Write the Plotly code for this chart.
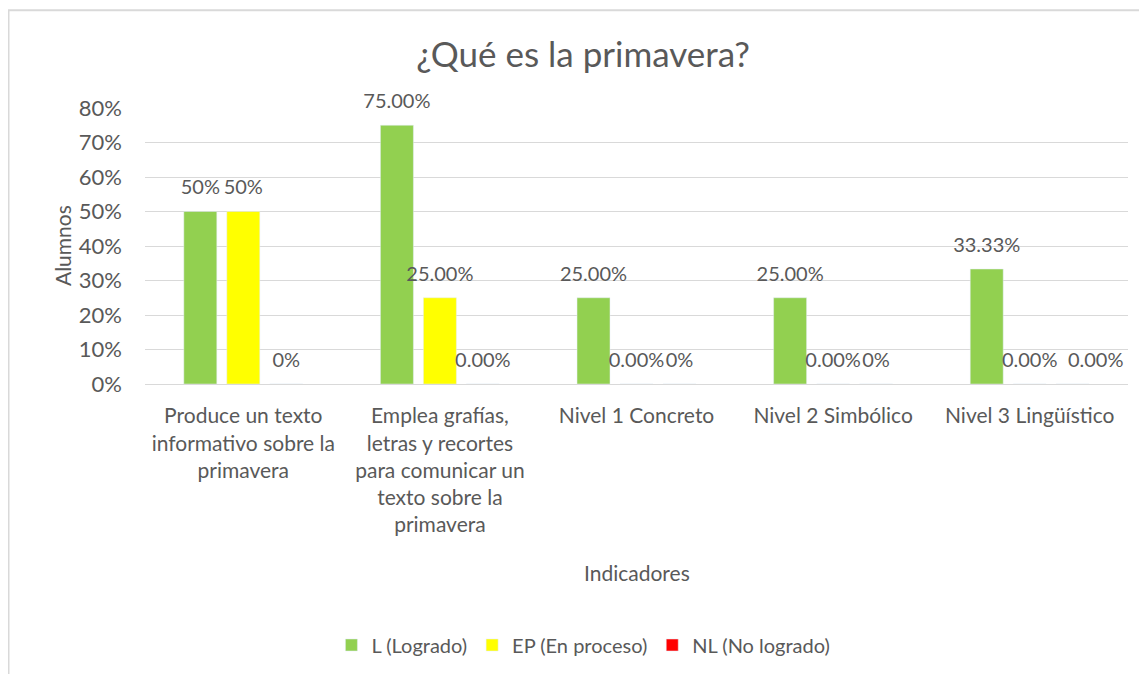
import plotly.graph_objects as go

categorias = [
    "Produce un texto<br>informativo sobre la<br>primavera",
    "Emplea grafías,<br>letras y recortes<br>para comunicar un<br>texto sobre la<br>primavera",
    "Nivel 1 Concreto",
    "Nivel 2 Simbólico",
    "Nivel 3 Lingüístico",
]
logrado = [0.50, 0.75, 0.25, 0.25, 0.3333]
en_proceso = [0.50, 0.25, 0.0, 0.0, 0.0]
no_logrado = [0.0, 0.0, 0.0, 0.0, 0.0]
txt_logrado = ["50%", "75.00%", "25.00%", "25.00%", "33.33%"]
txt_proceso = ["50%", "25.00%", "0.00%", "0.00%", "0.00%"]
# la última etiqueta NL está desplazada a la derecha en el original
txt_no_logrado = ["0%", "0.00%", "0%", "0%", "\u00a0" * 9 + "0.00%"]

gris = "#595959"
fuente = "Lato"

series = [
    ("L (Logrado)", logrado, txt_logrado, "#92D050"),
    ("EP (En proceso)", en_proceso, txt_proceso, "#FFFF00"),
    ("NL (No logrado)", no_logrado, txt_no_logrado, "#FF0000"),
]

fig = go.Figure()
for i, (nombre, valores, textos, color) in enumerate(series):
    fig.add_trace(go.Bar(
        x=categorias, y=valores, name=nombre, marker_color=color,
        offsetgroup=str(i),
    ))
# etiquetas de datos (un poco separadas de la barra, como en Excel)
for i, (nombre, valores, textos, color) in enumerate(series):
    fig.add_trace(go.Scatter(
        x=categorias, y=valores, mode="text+markers", text=textos,
        textposition="top center", offsetgroup=str(i), showlegend=False,
        marker=dict(size=18, opacity=0), cliponaxis=False, hoverinfo="skip",
        textfont=dict(size=20, color=gris, family=fuente),
    ))

fig.update_layout(
    width=1139, height=666,
    margin=dict(l=137, r=19, t=100, b=289),
    plot_bgcolor="white", paper_bgcolor="white",
    font=dict(family=fuente, color=gris, size=20),
    title=dict(text="¿Qué es la primavera?", x=0.505, xanchor="center",
               y=0.9294, yanchor="middle", font=dict(size=35, color=gris)),
    barmode="group", bargap=0.344, bargroupgap=0.233,
    scattermode="group", scattergap=0.344,
    showlegend=True,
    legend=dict(orientation="h", x=0.446, xanchor="center", y=-0.9386, yanchor="middle",
                font=dict(size=20, color=gris), traceorder="normal"),
)
fig.update_yaxes(range=[0, 0.8], dtick=0.1, tickformat=".0%", gridcolor="#D9D9D9",
                 zeroline=False, showline=False, ticks="", ticklabelstandoff=22,
                 tickfont=dict(size=22, color=gris))
fig.update_xaxes(showline=True, linecolor="#D9D9D9", ticks="", tickangle=0,
                 ticklabelstandoff=13, tickfont=dict(size=21, color=gris))
fig.add_annotation(text="Indicadores", xref="paper", yref="paper", x=0.5, y=-0.682,
                   xanchor="center", yanchor="middle",
                   showarrow=False, font=dict(size=21, color=gris))
fig.add_annotation(text="Alumnos", xref="paper", yref="paper", x=-0.0844, y=0.5,
                   xanchor="center", yanchor="middle",
                   textangle=-90, showarrow=False, font=dict(size=21, color=gris))
fig.add_shape(type="rect", xref="paper", yref="paper",
              x0=(0.5 - 137) / 983, x1=(1160 - 137) / 983,
              y0=(377 - 700) / 277, y1=(377 - 2) / 277,
              line=dict(color="#D9D9D9", width=2))

fig.write_html("out.html")
